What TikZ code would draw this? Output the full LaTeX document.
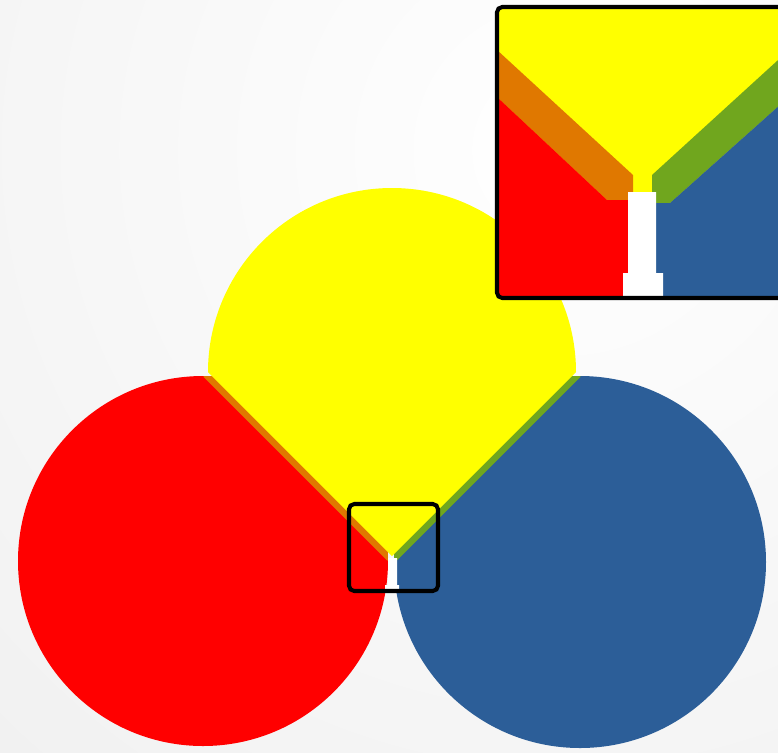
\documentclass[tikz,border=0pt]{standalone}
\usepackage{tikz}
\usepackage{xcolor}
\definecolor{grainred}   {RGB}{255,  0,  0}
\definecolor{grainyellow}{RGB}{255,255,  0}
\definecolor{grainblue}  {RGB}{ 44, 94,152}
\definecolor{bandorange} {RGB}{224,120,  0}
\definecolor{bandgreen}  {RGB}{112,166, 30}

\begin{document}
\begin{tikzpicture}[x=0.02cm, y=-0.02cm,
    band/.style={line width=7.6pt},
    zoomframe/.style={draw=black, line width=2.3pt, rounded corners=3pt}]
    \useasboundingbox (0,0) rectangle (778,752);
    % backdrop
    \begin{scope}
      \clip (0,0) rectangle (778,752);
      \shade[inner color=white, outer color=black!8] (560,150) circle (1200);
    \end{scope}

    \coordinate (redc)  at (203,561);
    \coordinate (bluec) at (580,562);
    \coordinate (tl)    at (208,372);
    \coordinate (tr)    at (576,372);
    \coordinate (jn)    at (392,556);

    % grains
    \fill[grainred]  (redc)  circle (185);
    \fill[grainblue] (bluec) circle (186);
    \begin{scope}
      \clip (redc) circle (185);
      \draw[band, bandorange] (tl) -- (jn);
    \end{scope}
    \begin{scope}
      \clip (bluec) circle (186);
      \draw[band, bandgreen] (tr) -- (jn);
    \end{scope}
    \fill[grainyellow] (tl) arc[start angle=180, end angle=360, radius=184] -- (jn) -- cycle;
    \fill[white] (388,558) -- (397,558) -- (397,585) -- (399,585) -- (399,591)
      -- (385,591) -- (385,585) -- (388,585) -- cycle;
    \draw[zoomframe] (349,504) rectangle (438,591);

    % magnified view
    \begin{scope}
      \clip[rounded corners=3pt] (497,7) rectangle (800,298);
      \fill[grainyellow] (497,7) rectangle (800,298);
      \fill[bandorange] (497,50) -- (633,175) -- (633,200) -- (607,200) -- (497,97) -- cycle;
      \fill[grainred] (497,97) -- (607,200) -- (628,200) -- (628,298) -- (497,298) -- cycle;
      \fill[bandgreen] (652,175) -- (800,40) -- (800,87) -- (670,203) -- (652,203) -- cycle;
      \fill[grainblue] (656,203) -- (670,203) -- (800,87) -- (800,298) -- (656,298) -- cycle;
      \fill[white] (628,192) -- (656,192) -- (656,273) -- (663,273) -- (663,298)
        -- (623,298) -- (623,273) -- (628,273) -- cycle;
    \end{scope}
    \draw[zoomframe] (497,7) rectangle (800,298);
\end{tikzpicture}
\end{document}
